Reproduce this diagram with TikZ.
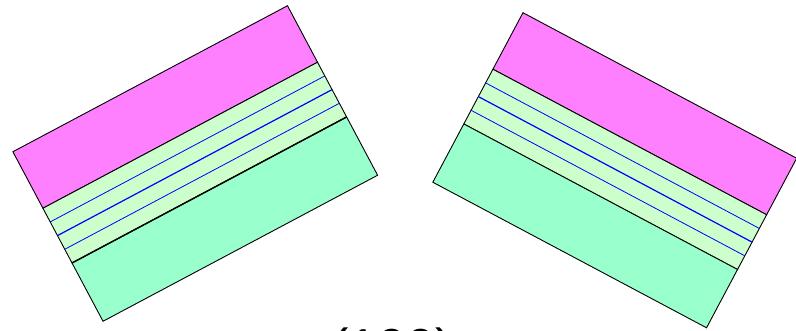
\documentclass[tikz,border=0pt]{standalone}
\usepackage{fontspec}
\setmainfont{Liberation Sans}
\definecolor{LayerTop}{HTML}{FF80FF}
\definecolor{LayerMid}{HTML}{CCFFCC}
\definecolor{LayerBot}{HTML}{99FFCC}
\begin{document}
\begin{tikzpicture}[
  x=1pt,y=1pt,
  slab/.style={draw=black,line width=0.9pt},
  film/.style={draw=blue,line width=0.8pt},
  lbl/.style={font=\fontsize{52}{60}\selectfont,anchor=base}
]
\useasboundingbox (0,0) rectangle (796,331);
% left stack
\begin{scope}[shift={(195.25,167.5)},rotate=28]
  \filldraw[slab,fill=LayerTop] (-155.5,32) rectangle (155.5,96);
  \filldraw[slab,fill=LayerMid] (-155.5,-30) rectangle (155.5,32);
  \filldraw[slab,fill=LayerBot] (-155.5,-96) rectangle (155.5,-30);
  \draw[slab,line width=1.4pt] (-155.5,-30) -- (155.5,-30);
  \foreach \y/\w in {16.5/0.8pt,1/1.2pt,-14.5/0.8pt}
    \draw[film,line width=\w] (-155.5,\y) -- (155.5,\y);
\end{scope}
% right stack
\begin{scope}[shift={(614.75,160.75)},rotate=-28]
  \filldraw[slab,fill=LayerTop] (-155,32) rectangle (155,96);
  \filldraw[slab,fill=LayerMid] (-155,-30) rectangle (155,32);
  \filldraw[slab,fill=LayerBot] (-155,-96) rectangle (155,-30);
  \foreach \y/\w in {16.5/0.8pt,1/1.2pt,-14.5/0.8pt}
    \draw[film,line width=\w] (-155,\y) -- (155,\y);
\end{scope}
\node[lbl] (miller) at (392,-34.5) {(100)};
\end{tikzpicture}
\end{document}
